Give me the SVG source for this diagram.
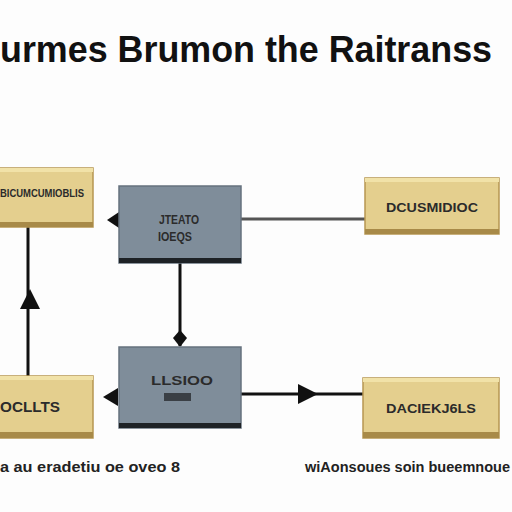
<svg xmlns="http://www.w3.org/2000/svg" width="512" height="512" viewBox="0 0 512 512">
<style>
.tan{fill:#e4cf8e;stroke:#b69651;stroke-width:1.5}
.tanTop{fill:#f1e2a8}
.tanBot{fill:#a88a48}
.gray{fill:#7f8d9a;stroke:#66727e;stroke-width:1.5}
.grayBot{fill:#1e2226}
.lbl{font-family:"Liberation Sans",Arial,sans-serif;font-weight:bold;fill:#2b2b2b;text-anchor:middle}
.title{font-family:"Liberation Sans",Arial,sans-serif;font-weight:bold;fill:#111;font-size:36px}
.cap{font-family:"Liberation Sans",Arial,sans-serif;font-weight:bold;fill:#222;font-size:14px}
.ln{stroke:#111;stroke-width:3;fill:none}
.lnG{stroke:#555;stroke-width:3;fill:none}
</style>
<rect width="512" height="512" fill="#fdfdfd"/>
<text class="title" x="0" y="62" textLength="492" lengthAdjust="spacingAndGlyphs">urmes Brumon the Raitranss</text>

<g id="connectors">
  <line class="lnG" x1="241" y1="219" x2="366" y2="219"/>
  <polygon points="107,220 119,212 119,228" fill="#111"/>
  <line class="ln" x1="180" y1="263" x2="180" y2="346"/>
  <polygon points="180,347 173,338 180,330 187,338" fill="#111"/>
  <line class="ln" x1="28" y1="227" x2="28" y2="376"/>
  <polygon points="30,289 20,309 40,309" fill="#111"/>
  <line class="ln" x1="241" y1="394" x2="363" y2="394"/>
  <polygon points="318,394 298,384 298,404" fill="#111"/>
  <polygon points="103,397 118,388 118,406" fill="#111"/>
</g>

<g id="n_topleft">
  <rect class="tan" x="-4" y="168" width="97" height="59"/>
  <rect class="tanTop" x="-4" y="168" width="97" height="4"/>
  <rect class="tanBot" x="-4" y="222" width="97" height="5"/>
  <text class="lbl" x="42" y="197" font-size="11" textLength="84" lengthAdjust="spacingAndGlyphs">BICUMCUMIOBLIS</text>
</g>

<g id="n_center_top">
  <rect class="gray" x="119" y="186" width="122" height="77"/>
  <rect class="grayBot" x="119" y="258" width="122" height="5"/>
  <text class="lbl" x="179" y="224" font-size="12" textLength="40" lengthAdjust="spacingAndGlyphs">JTEATO</text>
  <text class="lbl" x="175" y="241" font-size="12" textLength="34" lengthAdjust="spacingAndGlyphs">IOEQS</text>
</g>

<g id="n_topright">
  <rect class="tan" x="365" y="178" width="134" height="56"/>
  <rect class="tanTop" x="365" y="178" width="134" height="4"/>
  <rect class="tanBot" x="365" y="229" width="134" height="5"/>
  <text class="lbl" x="432" y="212" font-size="13" textLength="92" lengthAdjust="spacingAndGlyphs">DCUSMIDIOC</text>
</g>

<g id="n_center_bottom">
  <rect class="gray" x="119" y="347" width="122" height="81"/>
  <rect class="grayBot" x="119" y="423" width="122" height="5"/>
  <text class="lbl" x="182" y="385" font-size="13" textLength="62" lengthAdjust="spacingAndGlyphs">LLSIOO</text>
  <rect x="164" y="393" width="27" height="8" fill="#3a3f45"/>
</g>

<g id="n_bottomleft">
  <rect class="tan" x="-4" y="376" width="97" height="62"/>
  <rect class="tanTop" x="-4" y="376" width="97" height="4"/>
  <rect class="tanBot" x="-4" y="432" width="97" height="6"/>
  <text class="lbl" x="30" y="412" font-size="15" textLength="60" lengthAdjust="spacingAndGlyphs">OCLLTS</text>
</g>

<g id="n_bottomright">
  <rect class="tan" x="363" y="378" width="136" height="60"/>
  <rect class="tanTop" x="363" y="378" width="136" height="4"/>
  <rect class="tanBot" x="363" y="432" width="136" height="6"/>
  <text class="lbl" x="431" y="413" font-size="13" textLength="90" lengthAdjust="spacingAndGlyphs">DACIEKJ6LS</text>
</g>

<text class="cap" x="0" y="472" textLength="180" lengthAdjust="spacingAndGlyphs">a au eradetiu oe oveo 8</text>
<text class="cap" x="305" y="472" textLength="205" lengthAdjust="spacingAndGlyphs">wiAonsoues soin bueemnoue</text>
</svg>
